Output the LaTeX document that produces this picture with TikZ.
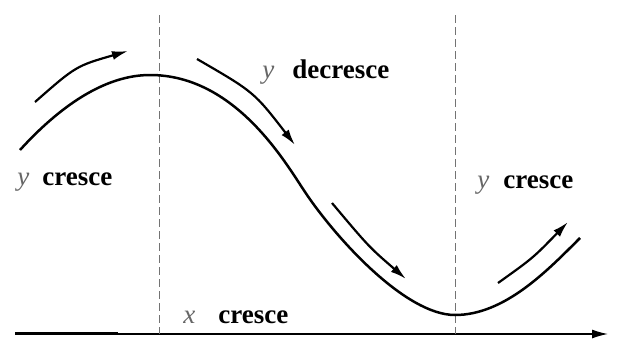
\documentclass[tikz,border=0pt]{standalone}
\usepackage{fontspec}
\setmainfont{Liberation Serif}
\usetikzlibrary{arrows.meta}

\begin{document}
\begin{tikzpicture}[x=0.5pt,y=-0.5pt,>={Latex[length=8pt,width=4.5pt]},
  lbl/.style={inner sep=0pt,anchor=base west,font=\fontsize{13.5}{16}\selectfont\bfseries},
  var/.style={lbl,text=black!60,font=\fontsize{13.5}{16}\selectfont\itshape},
  guide/.style={black!55,line width=0.45pt,dash pattern=on 4pt off 2pt},
  mov/.style={->,line width=1.1pt}]
  \useasboundingbox (0,0) rectangle (621,343);
  % axis
  \draw[->,line width=0.7pt] (15,334) -- (608,334);
  \draw[line width=1.5pt] (15,333) -- (118,333);
  % turning points
  \draw[guide] (159,15) -- (159,334);
  \draw[guide] (455,15) -- (455,334);
  % the function
  \draw[line width=1.25pt] (20,150) .. controls (60,106) and (105,75) .. (150,75)
    .. controls (235,75) and (285,162) .. (305,192)
    .. controls (335,237) and (405,315) .. (455,315)
    .. controls (505,315) and (548,270) .. (580,238);
  % direction of motion
  \draw[mov] (35,102) .. controls (76,66) .. (128,51);
  \draw[mov] (197,59) .. controls (254,92) .. (295,145);
  \draw[mov] (332,203) .. controls (369,247) .. (406,279);
  \draw[mov] (498,283) .. controls (533,258) .. (568,222);
  % labels
  \node[var] (yl) at (17,185) {y};
  \node[lbl] (cl) at (42,185) {cresce};
  \node[var] (yd) at (262,78) {y};
  \node[lbl] (dd) at (292,78) {decresce};
  \node[var] (yr) at (477,188) {y};
  \node[lbl] (cr) at (503,188) {cresce};
  \node[var] (xa) at (183,323) {x};
  \node[lbl] (ca) at (218,323) {cresce};
\end{tikzpicture}
\end{document}
